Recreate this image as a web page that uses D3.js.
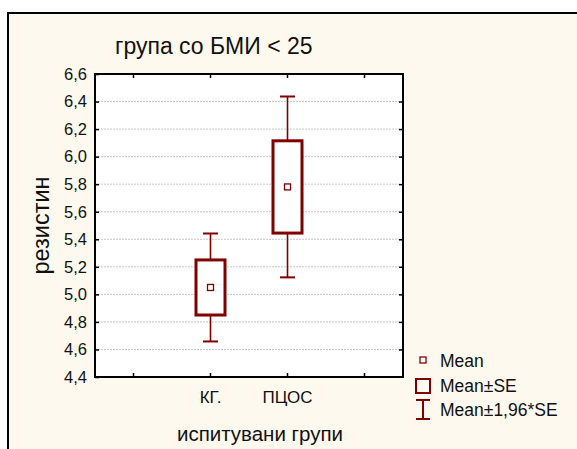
<!DOCTYPE html>
<html>
<head>
<meta charset="utf-8">
<script src="https://cdn.jsdelivr.net/npm/d3@7"></script>
<style>
  body { margin: 0; background: #fff; }
  text { font-family: Arial, "Liberation Sans", sans-serif; fill: #111; }
</style>
</head>
<body>
<div id="chart"></div>
<script>
// categories on x axis (first and last slot are empty, as in the original)
var categories = ["", "КГ.", "ПЦОС", ""];
// group means and standard errors
var groups = ["КГ.", "ПЦОС"];
var means = [5.05, 5.78];
var se = [0.20, 0.335];
var yTicks = [4.4, 4.6, 4.8, 5.0, 5.2, 5.4, 5.6, 5.8, 6.0, 6.2, 6.4, 6.6];
var legendLabels = ["Mean", "Mean±SE", "Mean±1,96*SE"];

var W = 577, H = 449;
var red = "#800000";
var margin = {top: 74, left: 95, right: 174, bottom: 72};

var svg = d3.select("#chart").append("svg")
  .attr("width", W)
  .attr("height", H);

// outer panel
svg.append("rect")
  .attr("x", 8).attr("y", 13)
  .attr("width", W).attr("height", H)
  .attr("fill", "#fdf9ee")
  .attr("stroke", "#000")
  .attr("stroke-width", 2);

var x = d3.scaleBand()
  .domain(d3.range(categories.length))
  .range([margin.left, W - margin.right]);

var y = d3.scaleLinear()
  .domain([4.4, 6.6])
  .range([H - margin.bottom, margin.top]);

var fmt = function (d) { return d3.format(".1f")(d).replace(".", ","); };

// plot area
svg.append("rect")
  .attr("x", margin.left).attr("y", margin.top)
  .attr("width", W - margin.right - margin.left)
  .attr("height", y(4.4) - y(6.6))
  .attr("fill", "#fff");

// dotted grid
svg.append("g").selectAll("line")
  .data(yTicks.slice(1, -1)).enter().append("line")
  .attr("x1", margin.left).attr("x2", W - margin.right)
  .attr("y1", function (d) { return y(d); })
  .attr("y2", function (d) { return y(d); })
  .attr("stroke", "#c8c8c8")
  .attr("stroke-dasharray", "2,1");

// axes with inward ticks
var tickFn = function (g) {
  g.select(".domain").remove();
  g.selectAll(".tick line").attr("stroke", "#000").attr("stroke-width", 1.5);
};

svg.append("g")
  .attr("transform", "translate(" + margin.left + ",0)")
  .call(d3.axisLeft(y).tickValues(yTicks).tickFormat(fmt).tickSizeInner(-4))
  .call(tickFn)
  .call(function (g) {
    g.selectAll("text").style("font-size", "16.5px").attr("x", -8);
  });

svg.append("g")
  .attr("transform", "translate(" + (W - margin.right) + ",0)")
  .call(d3.axisRight(y).tickValues(yTicks.slice(1, -1)).tickFormat("").tickSizeInner(-4))
  .call(tickFn);

svg.append("g")
  .attr("transform", "translate(0," + y(4.4) + ")")
  .call(d3.axisBottom(x).tickFormat(function (i) { return categories[i]; }).tickSizeInner(-4).tickSizeOuter(0))
  .call(tickFn)
  .call(function (g) {
    g.selectAll("text").style("font-size", "17px").attr("dy", null).attr("y", 26);
  });

svg.append("g")
  .attr("transform", "translate(0," + y(6.6) + ")")
  .call(d3.axisTop(x).tickFormat("").tickSizeInner(-4).tickSizeOuter(0))
  .call(tickFn);

// frame
svg.append("rect")
  .attr("x", margin.left).attr("y", margin.top)
  .attr("width", W - margin.right - margin.left)
  .attr("height", y(4.4) - y(6.6))
  .attr("fill", "none")
  .attr("stroke", "#000")
  .attr("stroke-width", 2);

// boxes and whiskers
var bw = 29, cap = 15;
var data = groups.map(function (g, i) {
  return {cx: x(categories.indexOf(g)) + x.bandwidth() / 2, mean: means[i], se: se[i]};
});

var item = svg.append("g").selectAll("g")
  .data(data).enter().append("g");

item.append("line")
  .attr("x1", function (d) { return d.cx; }).attr("x2", function (d) { return d.cx; })
  .attr("y1", function (d) { return y(d.mean + 1.96 * d.se); })
  .attr("y2", function (d) { return y(d.mean - 1.96 * d.se); })
  .attr("stroke", red).attr("stroke-width", 1.6);

item.selectAll(".cap")
  .data(function (d) { return [d.mean + 1.96 * d.se, d.mean - 1.96 * d.se].map(function (v) { return {cx: d.cx, v: v}; }); })
  .enter().append("line")
  .attr("x1", function (d) { return d.cx - cap / 2; }).attr("x2", function (d) { return d.cx + cap / 2; })
  .attr("y1", function (d) { return y(d.v); }).attr("y2", function (d) { return y(d.v); })
  .attr("stroke", red).attr("stroke-width", 2);

item.append("rect")
  .attr("x", function (d) { return d.cx - bw / 2; })
  .attr("y", function (d) { return y(d.mean + d.se); })
  .attr("width", bw)
  .attr("height", function (d) { return y(d.mean - d.se) - y(d.mean + d.se); })
  .attr("fill", "#fff")
  .attr("stroke", red).attr("stroke-width", 3);

item.append("rect")
  .attr("x", function (d) { return d.cx - 3; })
  .attr("y", function (d) { return y(d.mean) - 3; })
  .attr("width", 6).attr("height", 6)
  .attr("fill", "#fff")
  .attr("stroke", red).attr("stroke-width", 1.3);

// titles
svg.append("text")
  .attr("x", 115).attr("y", 54)
  .style("font-size", "23px")
  .text("група со БМИ < 25");

svg.append("text")
  .attr("transform", "translate(49," + ((y(4.4) + y(6.6)) / 2) + ") rotate(-90)")
  .attr("text-anchor", "middle")
  .style("font-size", "23.5px")
  .text("резистин");

svg.append("text")
  .attr("x", 260).attr("y", 441)
  .attr("text-anchor", "middle")
  .style("font-size", "20.5px")
  .text("испитувани групи");

// legend
var lg = svg.append("g").attr("transform", "translate(423,0)");
var rows = [360, 386, 410];

lg.append("rect")
  .attr("x", -3).attr("y", rows[0] - 3).attr("width", 6).attr("height", 6)
  .attr("fill", "#fff").attr("stroke", red).attr("stroke-width", 1.3);

lg.append("rect")
  .attr("x", -7).attr("y", rows[1] - 7).attr("width", 14).attr("height", 14)
  .attr("fill", "none").attr("stroke", red).attr("stroke-width", 2);

lg.append("path")
  .attr("d", "M-7," + (rows[2] - 10) + "h14M0," + (rows[2] - 10) + "v19M-7," + (rows[2] + 9) + "h14")
  .attr("fill", "none").attr("stroke", red).attr("stroke-width", 2);

lg.selectAll(".lt")
  .data(legendLabels).enter().append("text")
  .attr("x", 17)
  .attr("y", function (d, i) { return [367, 392, 416][i]; })
  .style("font-size", "17.5px")
  .text(function (d) { return d; });
</script>
</body>
</html>
